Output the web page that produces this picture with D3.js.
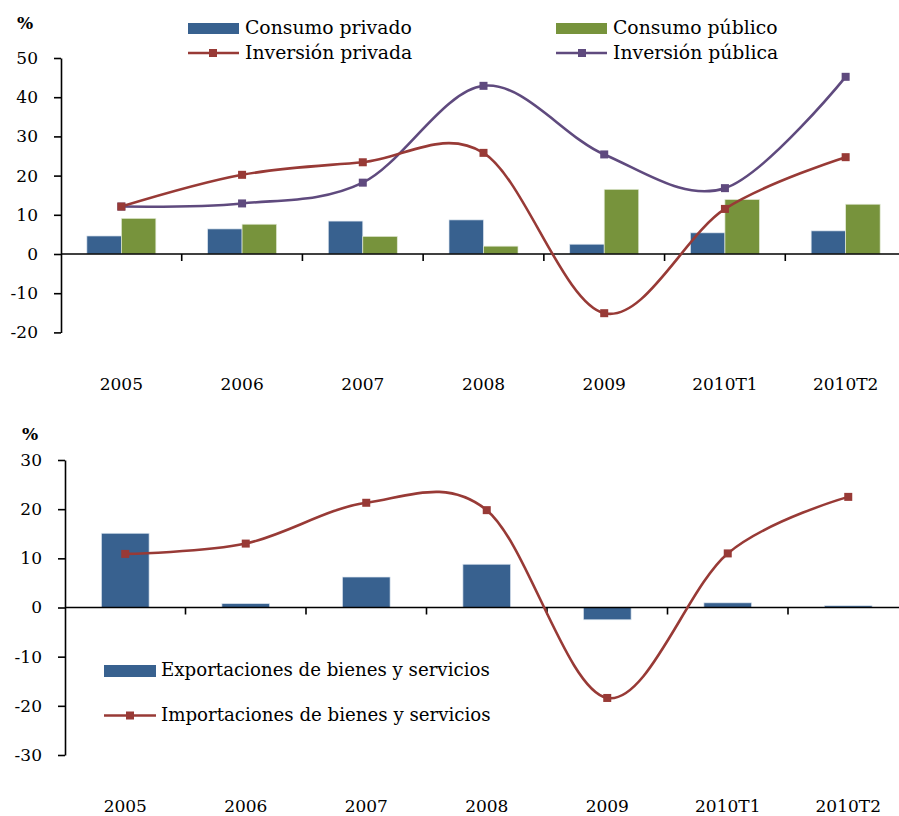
<!DOCTYPE html>
<html><head><meta charset="utf-8">
<script src="https://cdn.jsdelivr.net/npm/d3@7"></script>
<style>
html,body{margin:0;padding:0;background:#fff;}
text{font-family:"DejaVu Serif",serif;fill:#000;}
</style></head>
<body>
<svg id="c" width="899" height="816"></svg>
<script>
const categories = ["2005","2006","2007","2008","2009","2010T1","2010T2"];
const consumoPrivado = [4.6, 6.4, 8.4, 8.7, 2.5, 5.4, 5.9];
const consumoPublico = [9.1, 7.6, 4.5, 2.0, 16.5, 13.9, 12.7];
const inversionPrivada = [12.1, 20.2, 23.4, 25.8, -15.1, 11.5, 24.7];
const inversionPublica = [12.1, 12.9, 18.2, 42.9, 25.4, 16.8, 45.2];
const exportaciones = [15.1, 0.8, 6.2, 8.8, -2.5, 0.95, 0.35];
const importaciones = [10.9, 13.0, 21.3, 19.8, -18.4, 11.0, 22.5];
const topTicks = [-20,-10,0,10,20,30,40,50];
const bottomTicks = [-30,-20,-10,0,10,20,30];

const C = {blue:"#38618f", green:"#77933c", red:"#983a36", purple:"#5f4a7e"};
const svg = d3.select("#c");

function axes(g, x, y, ticks, labelY){
  const ya = g.append("g").attr("transform",`translate(${x.range()[0]},0)`)
    .call(d3.axisLeft(y).tickValues(ticks).tickSize(7).tickSizeOuter(0).tickPadding(16).tickFormat(d => String(d)));
  ya.attr("font-family","DejaVu Serif");
  ya.select(".domain").attr("stroke","#000").attr("stroke-width",1.6);
  ya.selectAll(".tick line").attr("stroke","#000").attr("stroke-width",1.6);
  ya.selectAll(".tick text").style("font-family","'DejaVu Serif', serif").style("font-size","17px").attr("fill","#000");
  const xa = g.append("g").attr("transform",`translate(0,${y(0)})`);
  xa.append("line").attr("x1",x.range()[0]).attr("x2",x.range()[1]).attr("stroke","#000").attr("stroke-width",1.6);
  xa.selectAll(".bt").data(categories.slice(1)).join("line")
    .attr("x1",d=>x(d)).attr("x2",d=>x(d)).attr("y1",0).attr("y2",7)
    .attr("stroke","#000").attr("stroke-width",1.6);
  const lab = g.append("g").attr("transform",`translate(0,${labelY})`)
    .call(d3.axisBottom(x).tickSize(0).tickPadding(0));
  lab.attr("font-family","DejaVu Serif");
  lab.select(".domain").remove();
  lab.selectAll(".tick text").style("font-family","'DejaVu Serif', serif").style("font-size","17px").attr("fill","#000").attr("dy","0");
}

function square(g, pts, color){
  g.selectAll(null).data(pts).join("rect")
    .attr("x",d=>d[0]-4).attr("y",d=>d[1]-4).attr("width",8).attr("height",8).attr("fill",color);
}

// ---------- TOP CHART ----------
{
  const x = d3.scaleBand().domain(categories).range([61, 906]);
  const y = d3.scaleLinear().domain([-20,50]).range([332.4, 58]);
  const g = svg.append("g");
  const bw = 34.5;
  const cx = d => x(d) + x.bandwidth()/2;
  g.selectAll(".bp").data(categories).join("rect")
    .attr("x",(d)=>cx(d)-bw).attr("width",bw)
    .attr("y",(d,i)=>y(Math.max(0,consumoPrivado[i]))).attr("height",(d,i)=>Math.abs(y(consumoPrivado[i])-y(0)))
    .attr("fill",C.blue).attr("stroke","#dde6f0").attr("stroke-width",0.7);
  g.selectAll(".bg").data(categories).join("rect")
    .attr("x",(d)=>cx(d)).attr("width",bw)
    .attr("y",(d,i)=>y(Math.max(0,consumoPublico[i]))).attr("height",(d,i)=>Math.abs(y(consumoPublico[i])-y(0)))
    .attr("fill",C.green).attr("stroke","#e3ead6").attr("stroke-width",0.7);
  axes(g, x, y, topTicks, 390);
  const line = d3.line().curve(d3.curveCatmullRom.alpha(0));
  const pr = categories.map((d,i)=>[cx(d), y(inversionPrivada[i])]);
  const pu = categories.map((d,i)=>[cx(d), y(inversionPublica[i])]);
  g.append("path").attr("d",line(pu)).attr("fill","none").attr("stroke",C.purple).attr("stroke-width",2.6);
  g.append("path").attr("d",line(pr)).attr("fill","none").attr("stroke",C.red).attr("stroke-width",2.6);
  square(g, pu, C.purple);
  square(g, pr, C.red);
  g.append("text").attr("x",17).attr("y",29).style("font-size","17px").style("font-weight","bold").text("%");
  const L = g.append("g");
  L.append("rect").attr("x",188).attr("y",23).attr("width",51).attr("height",11).attr("fill",C.blue);
  L.append("text").attr("x",245).attr("y",33.5).style("font-size","18.8px").text("Consumo privado");
  L.append("line").attr("x1",188).attr("x2",239).attr("y1",53).attr("y2",53).attr("stroke",C.red).attr("stroke-width",2.6);
  L.append("rect").attr("x",209).attr("y",49).attr("width",8).attr("height",8).attr("fill",C.red);
  L.append("text").attr("x",245).attr("y",58.5).style("font-size","18.8px").text("Inversión privada");
  L.append("rect").attr("x",556).attr("y",23).attr("width",51).attr("height",11).attr("fill",C.green);
  L.append("text").attr("x",613).attr("y",33.5).style("font-size","18.8px").text("Consumo público");
  L.append("line").attr("x1",556).attr("x2",607).attr("y1",53).attr("y2",53).attr("stroke",C.purple).attr("stroke-width",2.6);
  L.append("rect").attr("x",578).attr("y",49).attr("width",8).attr("height",8).attr("fill",C.purple);
  L.append("text").attr("x",613).attr("y",58.5).style("font-size","18.8px").text("Inversión pública");
}

// ---------- BOTTOM CHART ----------
{
  const x = d3.scaleBand().domain(categories).range([65, 908.5]);
  const y = d3.scaleLinear().domain([-30,30]).range([755, 460]);
  const g = svg.append("g");
  const bw = 47.7;
  const cx = d => x(d) + x.bandwidth()/2;
  g.selectAll(".be").data(categories).join("rect")
    .attr("x",(d)=>cx(d)-bw/2).attr("width",bw)
    .attr("y",(d,i)=>y(Math.max(0,exportaciones[i]))).attr("height",(d,i)=>Math.abs(y(exportaciones[i])-y(0)))
    .attr("fill",C.blue).attr("stroke","#dde6f0").attr("stroke-width",0.7);
  axes(g, x, y, bottomTicks, 812);
  const line = d3.line().curve(d3.curveCatmullRom.alpha(0));
  const im = categories.map((d,i)=>[cx(d), y(importaciones[i])]);
  g.append("path").attr("d",line(im)).attr("fill","none").attr("stroke",C.red).attr("stroke-width",2.6);
  square(g, im, C.red);
  g.append("text").attr("x",22).attr("y",440).style("font-size","17px").style("font-weight","bold").text("%");
  const L = g.append("g");
  L.append("rect").attr("x",104).attr("y",665).attr("width",52).attr("height",12).attr("fill",C.blue);
  L.append("text").attr("x",161).attr("y",676).style("font-size","18.2px").text("Exportaciones de bienes y servicios");
  L.append("line").attr("x1",104).attr("x2",156).attr("y1",715.5).attr("y2",715.5).attr("stroke",C.red).attr("stroke-width",2.6);
  L.append("rect").attr("x",126).attr("y",711.5).attr("width",8).attr("height",8).attr("fill",C.red);
  L.append("text").attr("x",161).attr("y",721).style("font-size","18.2px").text("Importaciones de bienes y servicios");
}
</script>
</body></html>
